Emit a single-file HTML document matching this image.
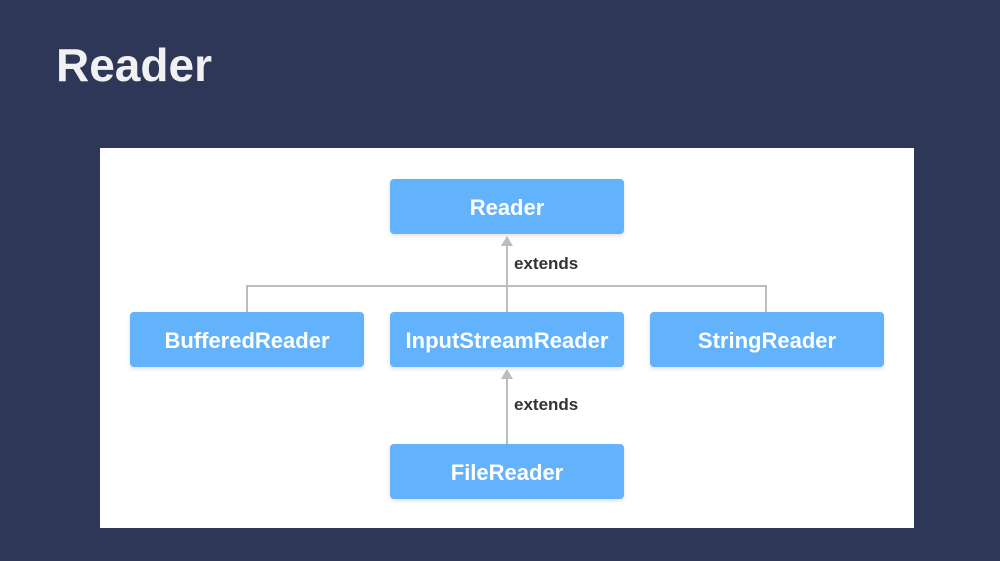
<!DOCTYPE html>
<html><head><meta charset="utf-8"><style>
body{margin:0;width:1000px;height:561px;background:#2e3757;position:relative;overflow:hidden;font-family:"Liberation Sans",sans-serif}
.t{position:absolute;left:56px;top:38px;font-size:46px;font-weight:bold;color:#f1f1f3}
.p{position:absolute;left:100px;top:148px;width:814px;height:380px;background:#fff}
.b{position:absolute;width:234px;height:55px;background:#62b3fb;border-radius:4px;color:#fff;font-size:22px;font-weight:bold;display:flex;align-items:center;justify-content:center;box-shadow:0 2px 4px rgba(0,0,0,.12);padding-top:2px;box-sizing:border-box}
.l{position:absolute;font-size:17px;font-weight:bold;color:#333}
</style></head><body>
<div class="t">Reader</div>
<div class="p"></div>
<svg style="position:absolute;left:0;top:0" width="1000" height="561">
<g stroke="#bdbdbd" stroke-width="2" fill="none">
<path d="M247 312V286H766V312"/>
<path d="M507 312V244"/>
<path d="M507 444V377"/>
</g>
<g fill="#bdbdbd">
<polygon points="501,246 513,246 507,236"/>
<polygon points="501,379 513,379 507,369"/>
</g>
</svg>
<div class="b" style="left:390px;top:179px">Reader</div>
<div class="b" style="left:130px;top:312px">BufferedReader</div>
<div class="b" style="left:390px;top:312px">InputStreamReader</div>
<div class="b" style="left:650px;top:312px">StringReader</div>
<div class="b" style="left:390px;top:444px">FileReader</div>
<div class="l" style="left:514px;top:254px">extends</div>
<div class="l" style="left:514px;top:395px">extends</div>
</body></html>
